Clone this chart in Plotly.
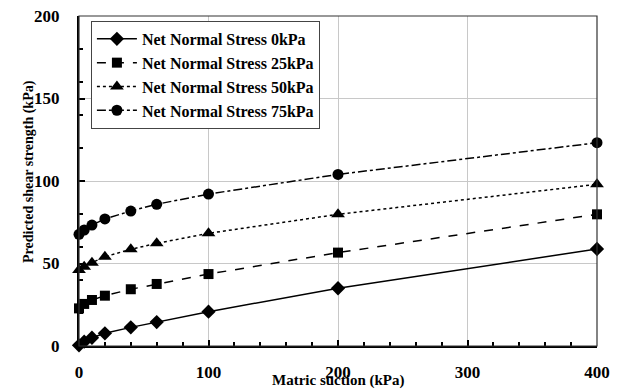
import plotly.graph_objects as go

suction = [0, 4, 10, 20, 40, 60, 100, 200, 400]
s0 = [0.4, 2.6, 5.0, 7.7, 11.3, 14.5, 20.8, 35.0, 58.8]
s25 = [22.8, 25.5, 27.9, 30.5, 34.4, 37.6, 43.6, 56.6, 79.8]
s50 = [46.0, 48.0, 50.5, 54.1, 58.6, 62.2, 68.3, 79.8, 98.0]
s75 = [67.7, 70.3, 73.3, 77.0, 81.8, 85.9, 92.1, 104.0, 123.2]

names = ["Net Normal Stress 0kPa", "Net Normal Stress 25kPa",
         "Net Normal Stress 50kPa", "Net Normal Stress 75kPa"]
series = [s0, s25, s50, s75]
dashes = ["solid", "dash", "dot", "dashdot"]
symbols = ["diamond", "square", "triangle-up", "circle"]
msizes = [11, 10, 12, 11]

FONT = "Liberation Serif"

fig = go.Figure()
for n, s, d, sym, ms in zip(names, series, dashes, symbols, msizes):
    fig.add_trace(go.Scatter(
        x=suction, y=s, name=n, mode="lines+markers",
        line=dict(color="black", width=1.5, dash=d),
        marker=dict(symbol=sym, size=ms, color="black"),
        cliponaxis=False,
    ))

fig.update_layout(
    width=625, height=391,
    margin=dict(l=79, r=28, t=16, b=45),
    paper_bgcolor="white", plot_bgcolor="white",
    font=dict(family=FONT, size=16, color="black"),
    showlegend=True,
    legend=dict(
        x=0.023, y=0.985, xanchor="left", yanchor="top",
        bgcolor="white", bordercolor="#444", borderwidth=1,
        font=dict(family=FONT, size=16, color="black", weight="bold"),
        itemwidth=40, tracegroupgap=0,
    ),
    xaxis=dict(
        range=[0, 400], tickvals=[0, 100, 200, 300, 400],
        showgrid=True, gridcolor="#c8c8c8", gridwidth=1,
        zeroline=False, showline=True, linecolor="black", linewidth=2,
        ticks="inside", ticklen=6, tickwidth=1.5, tickcolor="black",
        minor=dict(dtick=20, ticks="inside", ticklen=4, tickcolor="black", showgrid=False),
        tickfont=dict(family=FONT, size=17, weight="bold"),
        ticklabelstandoff=10, automargin=False,
    ),
    yaxis=dict(
        range=[0, 200], tickvals=[0, 50, 100, 150, 200],
        showgrid=True, gridcolor="#c8c8c8", gridwidth=1,
        zeroline=False, showline=True, linecolor="black", linewidth=2,
        ticks="inside", ticklen=6, tickwidth=1.5, tickcolor="black",
        minor=dict(dtick=20, ticks="inside", ticklen=4, tickcolor="black", showgrid=False),
        tickfont=dict(family=FONT, size=17, weight="bold"),
        ticklabelstandoff=14, automargin=False,
    ),
    shapes=[dict(type="rect", xref="x domain", yref="y domain", x0=0, x1=1, y0=0, y1=1,
                 line=dict(color="#333", width=1.2), layer="above")],
    annotations=[
        dict(text="<b>Matric suction (kPa)</b>", xref="paper", yref="paper",
             x=(338 - 79) / 518, y=-(381 - 346) / 330, showarrow=False,
             xanchor="center", yanchor="middle", font=dict(family=FONT, size=15)),
        dict(text="<b>Predicted shear strength (kPa)</b>", xref="paper", yref="paper",
             x=-(79 - 29) / 518, y=(346 - 172) / 330, showarrow=False, textangle=-90,
             xanchor="center", yanchor="middle", font=dict(family=FONT, size=14)),
    ],
)

fig.write_html("out.html")
